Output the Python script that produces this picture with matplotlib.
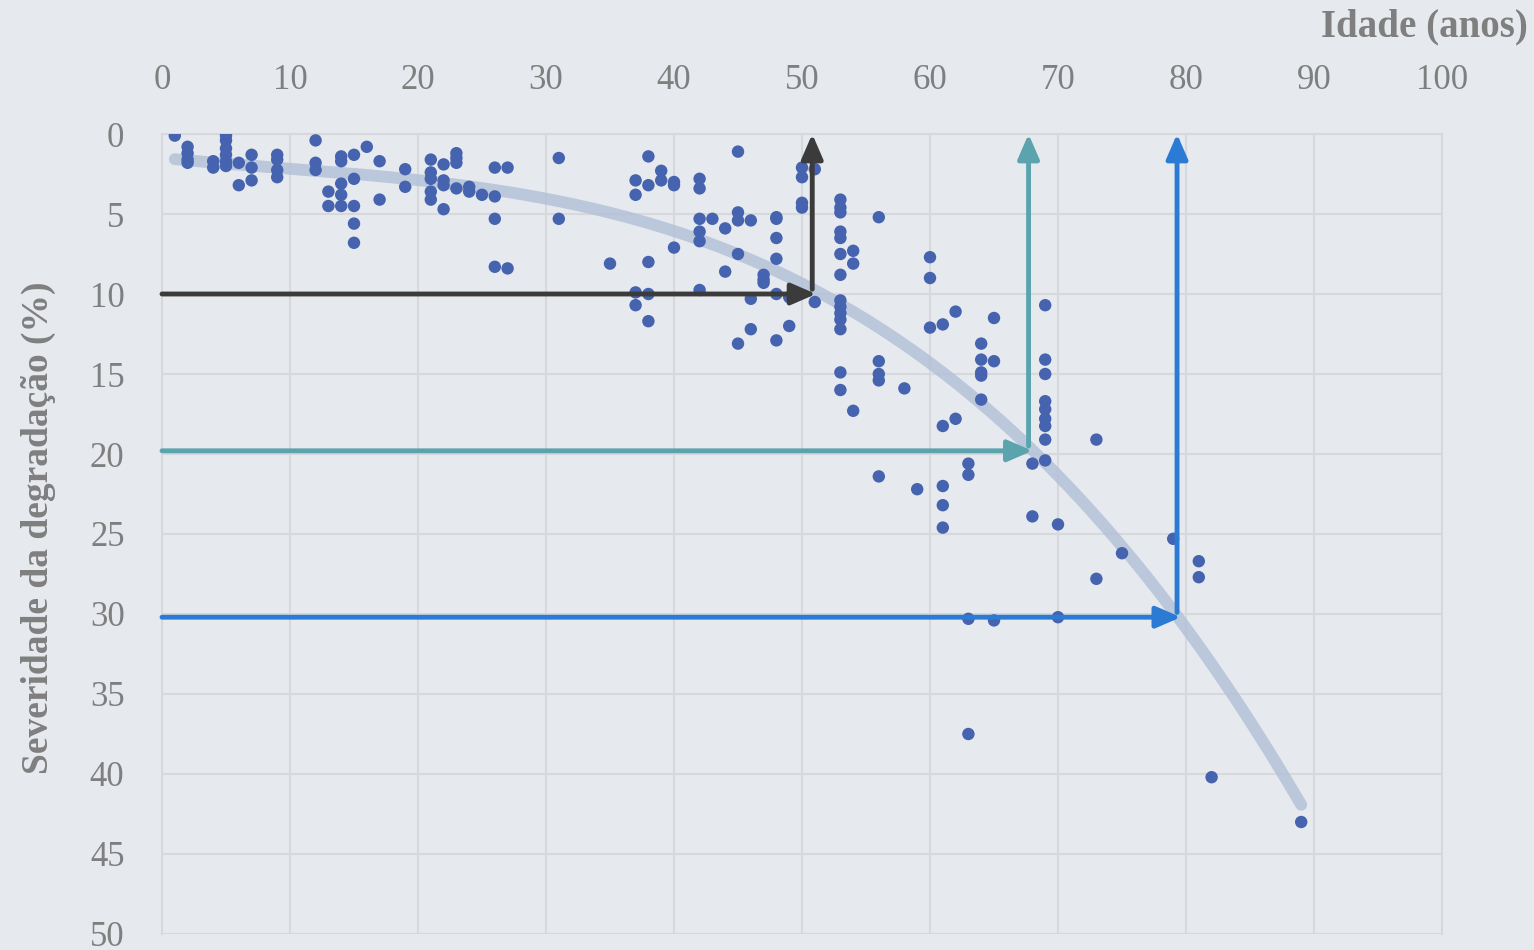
import numpy as np
import matplotlib
matplotlib.use("Agg")
import matplotlib.pyplot as plt

# idade (anos) -> severidade da degradação (%), one row per age
ages = [
    1,
    2, 2, 2, 2,
    4, 4,
    5, 5, 5, 5, 5, 5,
    6, 6,
    7, 7, 7,
    9, 9, 9, 9,
    12, 12, 12,
    13, 13,
    14, 14, 14, 14, 14,
    15, 15, 15, 15, 15,
    16,
    17, 17,
    19, 19,
    21, 21, 21, 21, 21,
    22, 22, 22, 22,
    23, 23, 23, 23,
    24, 24,
    25,
    26, 26, 26, 26,
    27, 27,
    31, 31,
    35,
    37, 37, 37, 37,
    38, 38, 38, 38, 38,
    39, 39,
    40, 40, 40,
    42, 42, 42, 42, 42, 42,
    43,
    44, 44,
    45, 45, 45, 45, 45,
    46, 46, 46,
    47, 47, 47,
    48, 48, 48, 48, 48, 48,
    49, 49,
    50, 50, 50, 50,
    51, 51,
    53, 53, 53, 53, 53, 53, 53, 53, 53, 53, 53, 53, 53, 53,
    54, 54, 54,
    56, 56, 56, 56, 56,
    58,
    59,
    60, 60, 60,
    61, 61, 61, 61, 61,
    62, 62,
    63, 63, 63, 63,
    64, 64, 64, 64, 64,
    65, 65, 65,
    68, 68,
    69, 69, 69, 69, 69, 69, 69, 69, 69,
    70, 70,
    73, 73,
    75,
    79,
    81, 81,
    82,
    89,
]
severity = [
    0.1,
    0.8, 1.2, 1.6, 1.8,
    1.7, 2.1,
    0.1, 0.4, 0.9, 1.3, 1.7, 2.0,
    1.8, 3.2,
    1.3, 2.1, 2.9,
    1.3, 1.6, 2.25, 2.7,
    0.4, 1.8, 2.25,
    3.6, 4.5,
    1.4, 1.7, 3.1, 3.8, 4.5,
    1.3, 2.8, 4.5, 5.6, 6.8,
    0.8,
    1.7, 4.1,
    2.2, 3.3,
    1.6, 2.4, 2.8, 3.6, 4.1,
    1.9, 2.9, 3.2, 4.7,
    1.2, 1.5, 1.8, 3.4,
    3.3, 3.6,
    3.8,
    2.1, 3.9, 5.3, 8.3,
    2.1, 8.4,
    1.5, 5.3,
    8.1,
    2.9, 3.8, 9.9, 10.7,
    1.4, 3.2, 8.0, 10.0, 11.7,
    2.3, 2.9,
    3.0, 3.2, 7.1,
    2.8, 3.4, 5.3, 6.1, 6.7, 9.75,
    5.3,
    5.9, 8.6,
    1.1, 4.9, 5.4, 7.5, 13.1,
    5.4, 10.3, 12.2,
    8.8, 9.1, 9.3,
    5.2, 5.3, 6.5, 7.8, 10.0, 12.9,
    10.2, 12.0,
    2.1, 2.7, 4.3, 4.6,
    2.2, 10.5,
    4.1, 4.6, 4.9, 6.1, 6.5, 7.5, 8.8, 10.4, 10.8, 11.2, 11.6, 12.2, 14.9, 16.0,
    7.3, 8.1, 17.3,
    5.2, 14.2, 15.0, 15.4, 21.4,
    15.9,
    22.2,
    7.7, 9.0, 12.1,
    11.9, 18.25, 22.0, 23.2, 24.6,
    11.1, 17.8,
    20.6, 21.3, 30.3, 37.5,
    13.1, 14.1, 14.9, 15.1, 16.6,
    11.5, 14.2, 30.4,
    20.6, 23.9,
    10.7, 14.1, 15.0, 16.7, 17.2, 17.8, 18.25, 19.1, 20.4,
    24.4, 30.2,
    19.1, 27.8,
    26.2,
    25.3,
    26.7, 27.7,
    40.2,
    43.0,
]

# reading guides: (severity level, age where it meets the trend, colour)
guide_levels = [10, 19.8, 30.2]
guide_ages = [51.1, 68.0, 79.6]
guide_colors = ["#3B3B3B", "#5BA4AE", "#2B7BD5"]

x_ticks = list(range(0, 101, 10))
y_ticks = list(range(0, 51, 5))

BG = "#E6E9EE"
GRID = "#D6D8DB"
TXT = "#7F7F7F"
SERIF = ["Liberation Serif", "DejaVu Serif"]
HEAD = "-|>,head_length=1.5,head_width=0.65"

fig = plt.figure(figsize=(15.34, 9.5), dpi=100, facecolor=BG)
ax = fig.add_axes([162 / 1534, 16 / 950, 1280 / 1534, 800 / 950])
ax.set_facecolor(BG)

# polynomial trend fitted on the observations
coefs = np.polyfit(ages, severity, 3)
tx = np.linspace(min(ages), max(ages), 200)
ax.plot(tx, np.polyval(coefs, tx), color="#B4C1D8", lw=8.5, alpha=0.85,
        solid_capstyle="round", zorder=2)

ax.scatter(ages, severity, s=80, color="#4563AE", edgecolors="none", zorder=3)

for level, age, col in zip(guide_levels, guide_ages, guide_colors):
    ax.annotate("", xy=(age, level), xytext=(0, level),
                arrowprops=dict(arrowstyle=HEAD, color=col, lw=3.5,
                                shrinkA=0, shrinkB=0),
                zorder=4)
    ax.annotate("", xy=(age - 0.3, 0), xytext=(age - 0.3, level - 0.3),
                arrowprops=dict(arrowstyle=HEAD, color=col, lw=3.5,
                                shrinkA=0, shrinkB=0),
                zorder=4)

ax.set_xlim(0, 100)
ax.set_ylim(50, 0)
ax.set_xticks(x_ticks)
ax.set_yticks(y_ticks)
ax.xaxis.tick_top()
ax.tick_params(length=0, labelsize=25, labelcolor=TXT)
ax.tick_params(axis="x", pad=27)
ax.tick_params(axis="y", pad=27)
for lab in ax.get_xticklabels() + ax.get_yticklabels():
    lab.set_family(SERIF)
ax.grid(True, color=GRID, lw=1.5)
ax.set_axisbelow(True)
for sp in ax.spines.values():
    sp.set_color(GRID)
    sp.set_linewidth(1.5)
ax.spines["bottom"].set_visible(False)

fig.text(1528 / 1534, 1 - 27 / 950, "Idade (anos)", ha="right", va="center",
         fontsize=28, fontweight="bold", color=TXT, family=SERIF)
fig.text(38 / 1534, 1 - 528 / 950, "Severidade da degradação (%)", rotation=90,
         ha="center", va="center", fontsize=27, fontweight="bold", color=TXT,
         family=SERIF)

fig.savefig("out.png", dpi=100, facecolor=BG)
